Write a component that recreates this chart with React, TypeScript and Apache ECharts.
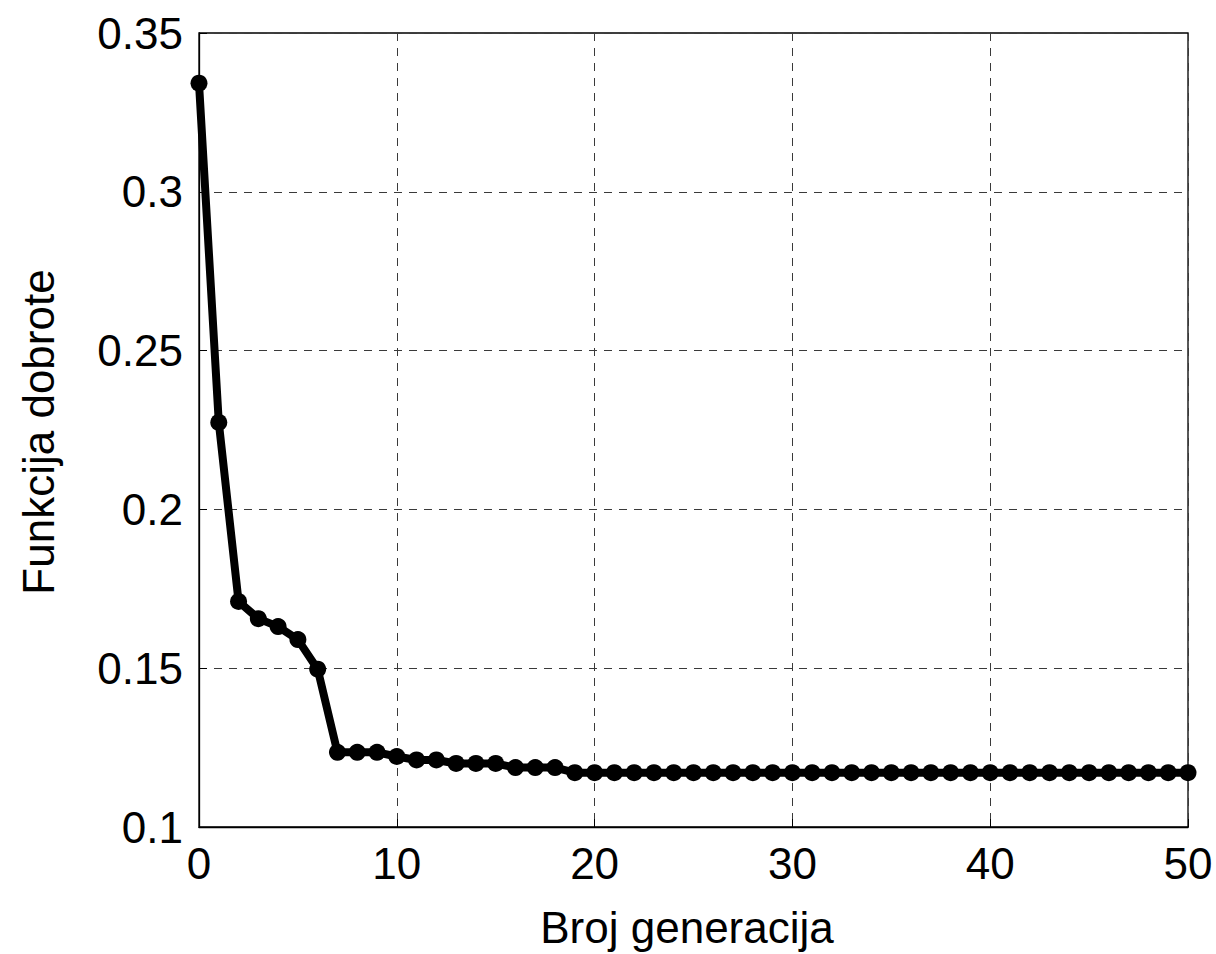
import React, { useEffect, useRef } from "react";
import * as echarts from "echarts";

// Generation index and best fitness value per generation
const generations: number[] = [
  0, 1, 2, 3, 4, 5, 6, 7, 8, 9, 10, 11, 12, 13, 14, 15, 16, 17, 18, 19, 20,
  21, 22, 23, 24, 25, 26, 27, 28, 29, 30, 31, 32, 33, 34, 35, 36, 37, 38, 39,
  40, 41, 42, 43, 44, 45, 46, 47, 48, 49, 50,
];
const fitness: number[] = [
  0.3342, 0.2274, 0.171, 0.1656, 0.1631, 0.159, 0.1497, 0.1235, 0.1235, 0.1235,
  0.1222, 0.1211, 0.1211, 0.12, 0.12, 0.12, 0.1187, 0.1187, 0.1187, 0.1171,
  0.1171, 0.1171, 0.1171, 0.1171, 0.1171, 0.1171, 0.1171, 0.1171, 0.1171,
  0.1171, 0.1171, 0.1171, 0.1171, 0.1171, 0.1171, 0.1171, 0.1171, 0.1171,
  0.1171, 0.1171, 0.1171, 0.1171, 0.1171, 0.1171, 0.1171, 0.1171, 0.1171,
  0.1171, 0.1171, 0.1171, 0.1171,
];

const xTitle = "Broj generacija";
const yTitle = "Funkcija dobrote";

const FONT = "'Liberation Sans', Arial, sans-serif";

export default function App() {
  const ref = useRef<HTMLDivElement>(null);

  useEffect(() => {
    if (!ref.current) return;
    const chart = echarts.init(ref.current, null, { renderer: "svg" });
    const gridLine = {
      show: true,
      lineStyle: { color: "#3a3a3a", width: 1, type: [8, 7] as number[] },
    };
    chart.setOption({
      animation: false,
      backgroundColor: "#ffffff",
      textStyle: { fontFamily: FONT },
      grid: {
        left: 199,
        top: 33,
        right: 28,
        bottom: 127,
        show: true,
        borderColor: "#000",
        borderWidth: 1.3,
        backgroundColor: "transparent",
      },
      xAxis: {
        type: "value",
        min: 0,
        max: 50,
        interval: 10,
        axisLine: { show: true, lineStyle: { color: "#000", width: 1.3 } },
        axisTick: { show: true, inside: true, length: 8, lineStyle: { color: "#000" } },
        axisLabel: { color: "#000", fontSize: 44, fontFamily: FONT, margin: 14 },
        splitLine: gridLine,
      },
      yAxis: {
        type: "value",
        min: 0.1,
        max: 0.35,
        interval: 0.05,
        axisLine: { show: true, lineStyle: { color: "#000", width: 1.3 } },
        axisTick: { show: true, inside: true, length: 8, lineStyle: { color: "#000" } },
        axisLabel: { color: "#000", fontSize: 44, fontFamily: FONT, margin: 16 },
        splitLine: gridLine,
      },
      graphic: [
        {
          type: "text",
          x: 687,
          y: 927,
          style: {
            text: xTitle,
            fontSize: 44,
            fontFamily: FONT,
            fill: "#000",
            align: "center",
            verticalAlign: "middle",
          },
        },
        {
          type: "text",
          x: 38,
          y: 432,
          rotation: Math.PI / 2,
          style: {
            text: yTitle,
            fontSize: 44,
            fontFamily: FONT,
            fill: "#000",
            align: "center",
            verticalAlign: "middle",
          },
        },
      ],
      series: [
        {
          type: "line",
          data: generations.map((g, i) => [g, fitness[i]]),
          symbol: "circle",
          symbolSize: 17,
          showAllSymbol: true,
          lineStyle: { color: "#000", width: 8 },
          itemStyle: { color: "#000" },
          clip: false,
        },
      ],
    });
    return () => chart.dispose();
  }, []);

  return (
    <div
      ref={ref}
      style={{ position: "fixed", left: 0, top: 0, width: 1216, height: 954, background: "#fff" }}
    />
  );
}
